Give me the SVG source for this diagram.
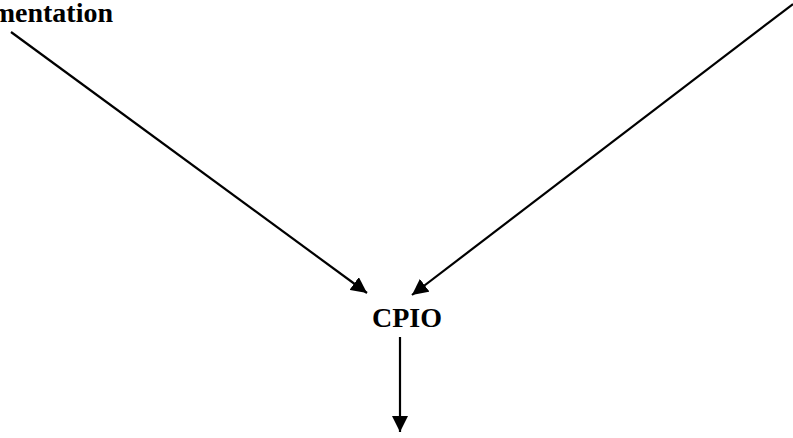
<svg xmlns="http://www.w3.org/2000/svg" width="793" height="438" viewBox="0 0 793 438">
<style>
.lbl{font-family:"Liberation Serif","Times New Roman",serif;font-weight:bold;font-size:28px;fill:#000}
.ln{stroke:#000;stroke-width:2.2;fill:none;marker-end:url(#ah)}
</style>
<defs>
<marker id="ah" markerUnits="userSpaceOnUse" viewBox="0 0 16 16" refX="16" refY="8" markerWidth="16" markerHeight="16" orient="auto">
<path d="M0,0 L16,8 L0,16 Z" fill="#000"/>
</marker>
</defs>
<rect width="793" height="438" fill="#fff"/>
<g id="node-left"><text class="lbl" x="113" y="22" text-anchor="end">mentation</text></g>
<g id="node-cpio"><text class="lbl" x="407" y="327" text-anchor="middle">CPIO</text></g>
<g id="connectors">
<line class="ln" x1="11" y1="32" x2="367" y2="293"/>
<line class="ln" x1="793" y1="4" x2="412" y2="295"/>
<line class="ln" x1="400" y1="337" x2="400" y2="432"/>
</g>
</svg>
